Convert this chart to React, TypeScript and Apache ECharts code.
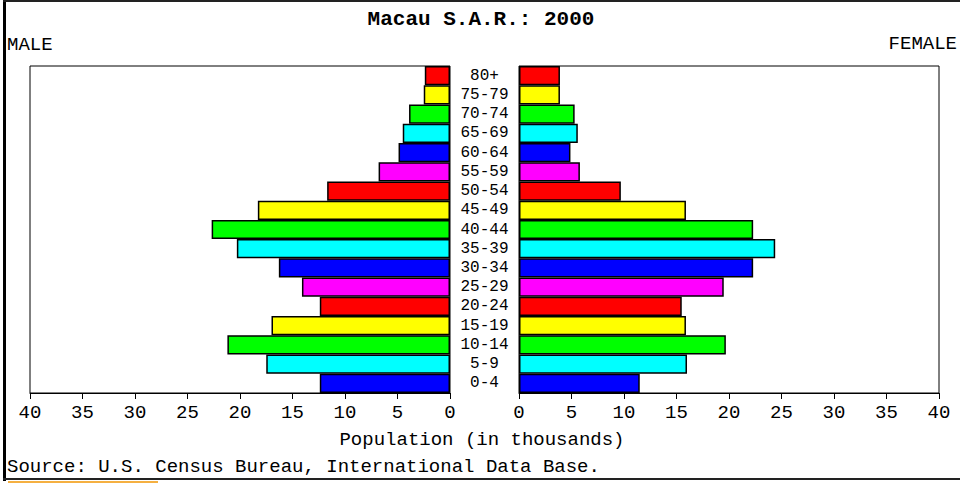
import React, { useEffect, useRef } from "react";
import * as echarts from "echarts";

const ageGroups = ["0-4", "5-9", "10-14", "15-19", "20-24", "25-29", "30-34", "35-39", "40-44", "45-49", "50-54", "55-59", "60-64", "65-69", "70-74", "75-79", "80+"];
const maleValues = [12.4, 17.5, 21.2, 17.0, 12.4, 14.1, 16.3, 20.3, 22.7, 18.3, 11.7, 6.8, 4.9, 4.5, 3.9, 2.5, 2.4];
const femaleValues = [11.5, 16.0, 19.7, 15.9, 15.5, 19.5, 22.3, 24.4, 22.3, 15.9, 9.7, 5.8, 4.9, 5.6, 5.3, 3.9, 3.9];
const barColors = ["#0000ff", "#00ffff", "#00ff00", "#ffff00", "#ff0000", "#ff00ff", "#0000ff", "#00ffff", "#00ff00", "#ffff00", "#ff0000", "#ff00ff", "#0000ff", "#00ffff", "#00ff00", "#ffff00", "#ff0000"];
const axisTicks = [0, 5, 10, 15, 20, 25, 30, 35, 40];

const FONT = "Liberation Mono";

export default function App() {
  const ref = useRef<HTMLDivElement>(null);
  useEffect(() => {
    if (!ref.current) return;
    const chart = echarts.init(ref.current, undefined, { renderer: "svg" });
    const labelStyle = { color: "#000", fontFamily: FONT, fontSize: 19 };
    const valueAxis = (gridIndex: number, inverse: boolean) => ({
      type: "value",
      gridIndex,
      min: axisTicks[0],
      max: axisTicks[axisTicks.length - 1],
      interval: 5,
      inverse,
      axisLine: { show: true, lineStyle: { color: "#000", width: 1 } },
      axisTick: { show: true, length: 6, lineStyle: { color: "#000" } },
      splitLine: { show: false },
      axisLabel: { ...labelStyle, margin: 10 },
    });
    const mkData = (vals: number[]) =>
      vals.map((v, i) => ({ value: v, itemStyle: { color: barColors[i] } }));
    chart.setOption({
      animation: false,
      backgroundColor: "#fff",
      grid: [
        { left: 30, top: 66, width: 420, height: 327, show: true, borderColor: "#000", borderWidth: 1, backgroundColor: "transparent" },
        { left: 519, top: 66, width: 420, height: 327, show: true, borderColor: "#000", borderWidth: 1, backgroundColor: "transparent" },
      ],
      xAxis: [valueAxis(0, true), valueAxis(1, false)],
      yAxis: [
        {
          type: "category",
          gridIndex: 0,
          data: ageGroups,
          position: "right",
          axisLine: { show: false },
          axisTick: { show: false },
          axisLabel: { color: "#000", fontFamily: FONT, fontSize: 16, lineHeight: 16, margin: 34.5, align: "center", interval: 0 },
        },
        {
          type: "category",
          gridIndex: 1,
          data: ageGroups,
          axisLine: { show: false },
          axisTick: { show: false },
          axisLabel: { show: false },
        },
      ],
      series: [
        {
          type: "bar",
          name: "Male",
          xAxisIndex: 0,
          yAxisIndex: 0,
          data: mkData(maleValues),
          barCategoryGap: "0%",
          barWidth: "100%",
          itemStyle: { borderColor: "#000", borderWidth: 1.5 },
        },
        {
          type: "bar",
          name: "Female",
          xAxisIndex: 1,
          yAxisIndex: 1,
          data: mkData(femaleValues),
          barCategoryGap: "0%",
          barWidth: "100%",
          itemStyle: { borderColor: "#000", borderWidth: 1.5 },
        },
      ],
      graphic: [
        { type: "rect", shape: { x: 3, y: 0, width: 3, height: 481 }, style: { fill: "#000" } },
        { type: "rect", shape: { x: 3, y: 0, width: 957, height: 2 }, style: { fill: "#222" } },
        { type: "rect", shape: { x: 3, y: 478, width: 957, height: 2 }, style: { fill: "#222" } },
        { type: "rect", shape: { x: 8, y: 481, width: 150, height: 2 }, style: { fill: "#f5b041" } },
        { type: "text", style: { text: "Macau S.A.R.: 2000", x: 481, y: 19, align: "center", verticalAlign: "middle", font: `bold 21px "${FONT}"`, fill: "#000" } },
        { type: "text", style: { text: "MALE", x: 7, y: 45, align: "left", verticalAlign: "middle", font: `19px "${FONT}"`, fill: "#000" } },
        { type: "text", style: { text: "FEMALE", x: 957, y: 44, align: "right", verticalAlign: "middle", font: `19px "${FONT}"`, fill: "#000" } },
        { type: "text", style: { text: "Population (in thousands)", x: 482, y: 440, align: "center", verticalAlign: "middle", font: `19px "${FONT}"`, fill: "#000" } },
        { type: "text", style: { text: "Source: U.S. Census Bureau, International Data Base.", x: 7, y: 467, align: "left", verticalAlign: "middle", font: `19px "${FONT}"`, fill: "#000" } },
      ],
    });
    return () => chart.dispose();
  }, []);
  return <div ref={ref} style={{ position: "fixed", left: 0, top: 0, width: 960, height: 483 }} />;
}
